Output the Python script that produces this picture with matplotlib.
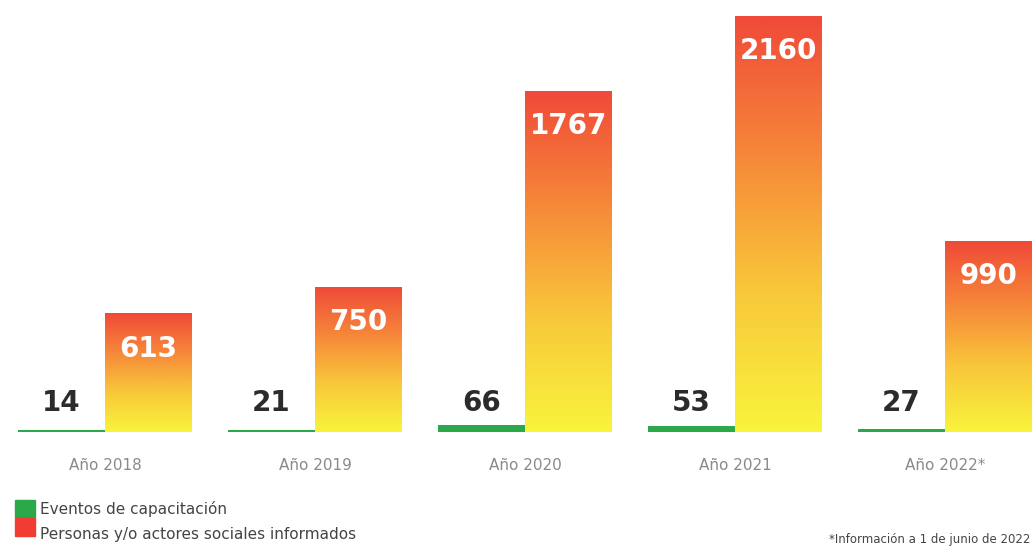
import numpy as np
import matplotlib
matplotlib.use("Agg")
import matplotlib.pyplot as plt
from matplotlib.colors import LinearSegmentedColormap
from matplotlib.patches import Rectangle

years = ["Año 2018", "Año 2019", "Año 2020", "Año 2021", "Año 2022*"]
eventos = [14, 21, 66, 53, 27]
personas = [613, 750, 1767, 2160, 990]
legend_labels = ["Eventos de capacitación", "Personas y/o actores sociales informados"]
footnote = "*Información a 1 de junio de 2022"

green = "#2aa84a"
grad = LinearSegmentedColormap.from_list(
    "ry", ["#f8f43c", "#f9c83a", "#f6883a", "#f04a38"])

fig = plt.figure(figsize=(10.35, 5.46), dpi=100)
ax = fig.add_axes([0, 0.209, 1, 0.791])
# green series is drawn on its own (much flatter) scale, as in the original
ax2 = ax.twinx()

x = np.arange(len(years))
w = 0.414

ax2.bar(x - w / 2, eventos, width=w, color=green, zorder=2)
bars = ax.bar(x + w / 2, personas, width=w, color="none", zorder=2)

ramp = np.linspace(0, 1, 256).reshape(-1, 1)
for b in bars:
    x0, y0 = b.get_x(), b.get_y()
    ax.imshow(ramp, cmap=grad, origin="lower", aspect="auto",
              extent=(x0, x0 + b.get_width(), y0, y0 + b.get_height()), zorder=2)

for i in range(len(years)):
    ax.text(x[i] - w / 2, 150, str(eventos[i]), ha="center", va="center",
            fontsize=20, fontweight="bold", color="#2b2b2b")
    ax.text(x[i] + w / 2, personas[i] - 180, str(personas[i]), ha="center",
            va="center", fontsize=20, fontweight="bold", color="white", zorder=3)

ax.set_xlim(-0.5, 4.43)
ax.set_ylim(0, 2243)
ax2.set_ylim(0, 4000)
ax.axis("off")
ax2.axis("off")

for i, lab in enumerate(years):
    fig.text((105 + 210 * i) / 1035, 1 - 465 / 546, lab, ha="center", va="center",
             fontsize=11, color="#8a8a8a")

# legend squares
fig.patches.append(Rectangle((15 / 1035, 1 - 517 / 546), 20 / 1035, 17 / 546,
                             transform=fig.transFigure, color=green))
fig.patches.append(Rectangle((15 / 1035, 1 - 536 / 546), 20 / 1035, 18 / 546,
                             transform=fig.transFigure, color="#f03c32"))
fig.text(40 / 1035, 1 - 509 / 546, legend_labels[0], ha="left", va="center",
         fontsize=11, color="#444444")
fig.text(40 / 1035, 1 - 535 / 546, legend_labels[1], ha="left", va="center",
         fontsize=11, color="#444444")
fig.text(1030 / 1035, 1 - 540 / 546, footnote, ha="right", va="center",
         fontsize=8.5, color="#444444")

fig.savefig("out.png", dpi=100)
